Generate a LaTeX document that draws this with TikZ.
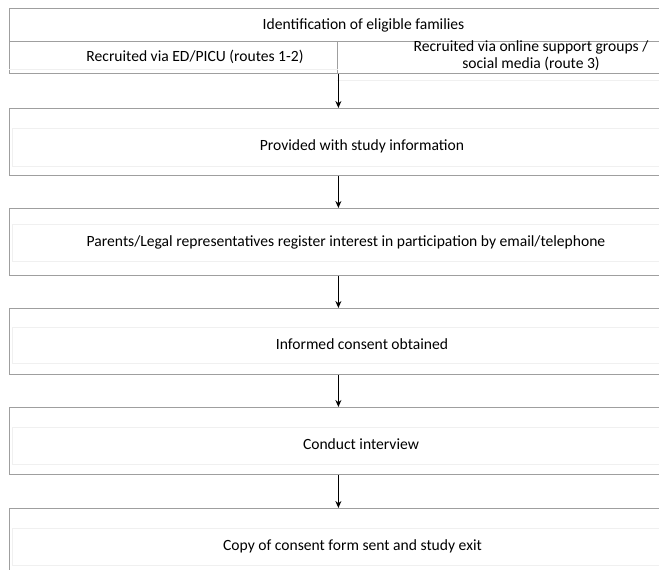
\documentclass[tikz,border=0pt]{standalone}
\usepackage{fontspec}
\setmainfont{Carlito}
\usetikzlibrary{arrows.meta}
\begin{document}
\begin{tikzpicture}[x=1pt,y=-1pt,>={Stealth[length=7pt,width=6pt]},
frame/.style = {draw=gray!75, line width=0.8pt, inner sep=0pt, anchor=north west, minimum width=658},
cell/.style = {draw=gray!12, line width=0.6pt, inner sep=0pt, anchor=north west, minimum width=700},
txt/.style = {font=\fontsize{15.6}{17}\selectfont, inner sep=0pt},
]
\useasboundingbox (0,0) rectangle (659,570);
\clip (0,0) rectangle (659,570);
% top box: identification and the two routes
\node (ident) at (9,8)[frame,minimum height=33] {};
\node (recED) at (9,41)[frame,minimum width=328,minimum height=32] {};
\node (recOnline) at (337,41)[frame,minimum width=330,minimum height=32] {};
\draw[draw=gray!12,line width=0.6pt] ([yshift=5]recED.south west) -- ([yshift=5]recED.south east);
\draw[draw=gray!12,line width=0.6pt] ([yshift=-6]recOnline.south west) -- ([yshift=-6]recOnline.south east);
\node (identtxt) at (363.5,25)[txt] {Identification of eligible families};
\node (recEDtxt) at (195,57)[txt] {Recruited via ED/PICU (routes 1-2)};
\node (recOnlinetxt) at (531,56)[txt,align=center] {Recruited via online support groups /\\social media (route 3)};
% step boxes
\node (info) at (9,108)[frame,minimum height=67] {};
\node (register) at (9,208)[frame,minimum height=67] {};
\node (consent) at (9,308)[frame,minimum height=66] {};
\node (interview) at (9,407)[frame,minimum height=67] {};
\node (exit) at (9,508)[frame,minimum height=80] {};
\node (infocell) at (11.5,128)[cell,minimum height=38] {};
\node (registercell) at (11.5,224)[cell,minimum height=37] {};
\node (consentcell) at (11.5,327)[cell,minimum height=36] {};
\node (interviewcell) at (11.5,427)[cell,minimum height=37] {};
\node (exitcell) at (11.5,528)[cell,minimum height=37] {};
\node (infotxt) at (362,146)[txt] {Provided with study information};
\node (registertxt) at (346,242)[txt] {Parents/Legal representatives register interest in participation by email/telephone};
\node (consenttxt) at (362,344)[txt] {Informed consent obtained};
\node (interviewtxt) at (361,444)[txt] {Conduct interview};
\node (exittxt) at (352.5,546)[txt] {Copy of consent form sent and study exit};
% arrows
\draw[->,line width=1.1pt] (info.north |- recED.south) -- (info.north);
\draw[->,line width=1.1pt] (info.south) -- (register.north);
\draw[->,line width=1.1pt] (register.south) -- (consent.north);
\draw[->,line width=1.1pt] (consent.south) -- (interview.north);
\draw[->,line width=1.1pt] (interview.south) -- (exit.north);
\end{tikzpicture}
\end{document}
